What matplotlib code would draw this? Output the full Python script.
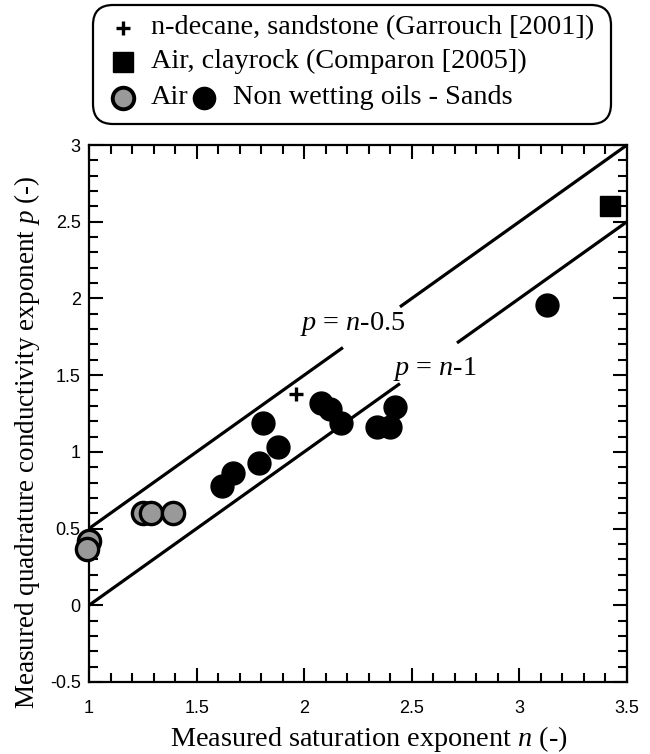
import numpy as np
import matplotlib
matplotlib.use('Agg')
import matplotlib.pyplot as plt
from matplotlib.patches import FancyBboxPatch
from matplotlib.lines import Line2D
from matplotlib.ticker import MultipleLocator

### Data: measured saturation exponent n vs quadrature conductivity exponent p
air_n = [1.00, 0.99, 1.25, 1.29, 1.39]          # Air - sands (grey)
air_p = [0.42, 0.37, 0.60, 0.60, 0.60]
oil_n = [1.62, 1.67, 1.79, 1.81, 1.88, 2.08, 2.12, 2.17, 2.34, 2.40, 2.42, 3.13]   # non wetting oils - sands
oil_p = [0.78, 0.86, 0.93, 1.19, 1.03, 1.32, 1.28, 1.19, 1.16, 1.16, 1.29, 1.96]
decane_n = [1.96]   # Garrouch [2001]
decane_p = [1.38]
clay_n = [3.42]     # Comparon [2005]
clay_p = [2.60]

# p = n - offset, each line is interrupted where its label sits
line_offsets = [0.5, 1.0]
line_gaps = [(2.18, 2.445), (2.445, 2.71)]
x_ticks = [1, 1.5, 2, 2.5, 3, 3.5]
y_ticks = [-0.5, 0, 0.5, 1, 1.5, 2, 2.5, 3]

SERIF = 'Liberation Serif'
SANS = 'Liberation Sans'
FS = 20.3
plt.rcParams['mathtext.fontset'] = 'custom'
plt.rcParams['mathtext.rm'] = SERIF
plt.rcParams['mathtext.it'] = SERIF + ':italic'

fig = plt.figure(figsize=(6.5, 7.54), dpi=100)
ax = fig.add_axes([89/650, 1 - 682/754, (627 - 89)/650, (682 - 145)/754])

for off, (g0, g1) in zip(line_offsets, line_gaps):
    for seg in (np.array([1.0, g0]), np.array([g1, 3.5])):
        ax.plot(seg, seg - off, color='black', lw=2.3, zorder=2, solid_capstyle='butt')

ax.text(1.98, 1.794, r'$p$ = $n$-0.5', ha='left', va='baseline', fontsize=FS, family=SERIF)
ax.text(2.413, 1.50, r'$p$ = $n$-1', ha='left', va='baseline', fontsize=FS, family=SERIF)

# measurements
ax.plot(air_n, air_p, 'o', ms=16, mfc='#999999', mec='black', mew=2.4, ls='none',
        zorder=5, clip_on=False)
ax.plot(oil_n, oil_p, 'o', ms=16.5, mfc='black', mec='black', ls='none', zorder=5)
ax.plot(decane_n, decane_p, '+', ms=10, mew=2.4, color='black', ls='none', zorder=5)
ax.plot(clay_n, clay_p, 's', ms=14.5, color='black', ls='none', zorder=5)

ax.set_xlim(1, 3.5)
ax.set_ylim(-0.5, 3)
ax.set_xticks(x_ticks)
ax.set_xticklabels([f'{v:g}' for v in x_ticks])
ax.set_yticks(y_ticks)
ax.set_yticklabels([f'{v:g}' for v in y_ticks])
ax.xaxis.set_minor_locator(MultipleLocator(0.1))
ax.yaxis.set_minor_locator(MultipleLocator(0.1))
ax.tick_params(which='both', direction='in', top=True, right=True, width=1.5, color='black')
ax.tick_params(which='major', length=10)
ax.tick_params(which='minor', length=6.5)
ax.tick_params(axis='x', pad=13)
ax.tick_params(axis='y', pad=6)
for lab in ax.get_xticklabels() + ax.get_yticklabels():
    lab.set_family(SANS)
    lab.set_fontsize(13)
for sp in ax.spines.values():
    sp.set_linewidth(1.6)

ax.set_xlabel(r'Measured saturation exponent $n$ (-)', fontsize=FS, family=SERIF)
ax.xaxis.set_label_coords(0.52, -0.078)
ax.set_ylabel(r'Measured quadrature conductivity exponent $p$ (-)', fontsize=19.5, family=SERIF)
ax.yaxis.set_label_coords(-0.088, 0.447)

# legend box drawn by hand: the last row holds two markers
tr = fig.dpi_scale_trans
H = 7.54
fig.patches.append(FancyBboxPatch((0.93, H - 1.24), 5.18, 1.19,
                                  boxstyle='round,pad=0,rounding_size=0.2',
                                  transform=tr, facecolor='white', edgecolor='black', lw=1.6))
rows = [H - 0.275, H - 0.615, H - 0.98]
fig.lines.append(Line2D([1.23], [rows[0]], marker='+', ms=10, mew=2.4, color='black', transform=tr))
fig.lines.append(Line2D([1.23], [rows[1]], marker='s', ms=14.5, color='black', transform=tr))
fig.lines.append(Line2D([1.23], [rows[2]], marker='o', ms=15.5, mfc='#999999', mec='black', mew=2.8, transform=tr))
fig.lines.append(Line2D([2.04], [rows[2]], marker='o', ms=16, mfc='black', mec='black', transform=tr))
leg = dict(fontsize=FS, family=SERIF, va='center', ha='left', transform=tr)
fig.text(1.51, rows[0], 'n-decane, sandstone (Garrouch [2001])', **leg)
fig.text(1.51, rows[1], 'Air, clayrock (Comparon [2005])', **leg)
fig.text(1.51, rows[2], 'Air', **leg)
fig.text(2.33, rows[2], 'Non wetting oils - Sands', **leg)

fig.savefig('out.png', dpi=100)
